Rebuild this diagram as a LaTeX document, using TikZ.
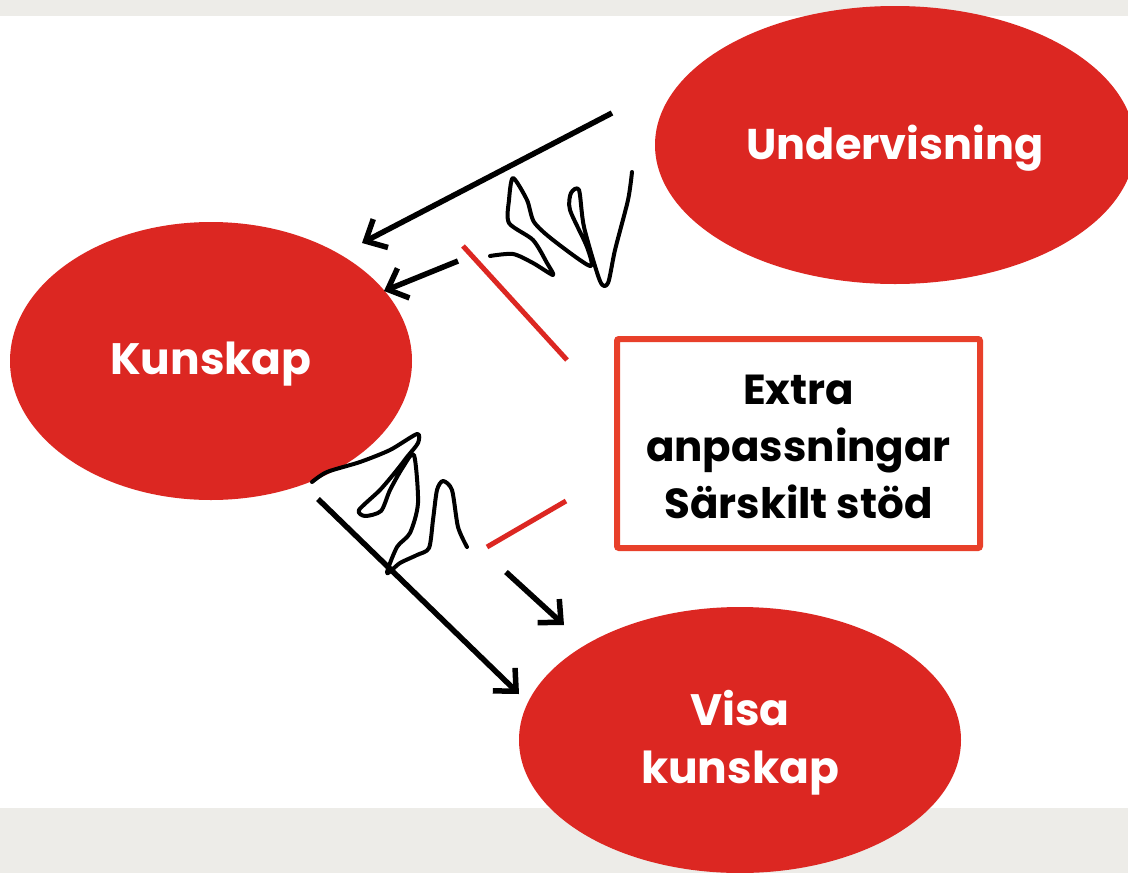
\documentclass[tikz,border=0pt]{standalone}
\usepackage{fontspec}
\newfontfamily\popfont{Poppins}
\usetikzlibrary{arrows.meta,shapes.geometric}
\definecolor{bandgrey}{HTML}{EDECE8}
\definecolor{ellred}{HTML}{DC2722}
\definecolor{boxred}{HTML}{E8402A}
\tikzset{
  bubble/.style={ellipse, fill=ellred, inner sep=0pt, text=white, align=center,
    font=\popfont\bfseries\fontsize{44}{56}\selectfont},
  arrowline/.style={line width=5.5pt, black, -{Straight Barb[length=17pt,width=32pt,line width=5.5pt]}},
  redline/.style={line width=5pt, ellred},
  scribble/.style={line width=4pt, black, line cap=round, line join=round},
}
\begin{document}
\begin{tikzpicture}[x=1pt,y=-1pt]
\path[use as bounding box] (0,0) rectangle (1128,873);
\fill[white] (0,0) rectangle (1128,873);
\fill[bandgrey] (0,0) rectangle (1128,16);
\fill[bandgrey] (0,808) rectangle (1128,873);

\node[bubble, minimum width=480pt, minimum height=278pt] (und) at (895,145) {};
\node[bubble, minimum width=402pt, minimum height=278pt] (kun) at (211,361) {};
\node[bubble, minimum width=442pt, minimum height=266pt] (visa) at (740,740) {};

\node[font=\popfont\bfseries\fontsize{43}{56}\selectfont, text=white] (undt) at (895,148) {Undervisning};
\node[font=\popfont\bfseries\fontsize{44}{56}\selectfont, text=white] (kunt) at (211,364) {Kunskap};
\node[font=\popfont\bfseries\fontsize{44}{58}\selectfont, text=white, align=center] (visat) at (740,743) {Visa\\kunskap};

\node[draw=boxred, line width=6pt, rounded corners=2pt, fill=white, minimum width=363pt, minimum height=209pt] (box) at (798.5,443.5) {};
\node[font=\popfont\bfseries\fontsize{42}{57}\selectfont, align=center] (boxt) at (798.5,447) {Extra\\anpassningar\\Särskilt stöd};

% connector end points
\coordinate (a1s) at (612,113);
\coordinate (a1e) at (362,243);
\coordinate (a2s) at (458,261);
\coordinate (a2e) at (384,291);
\coordinate (a3s) at (318,499);
\coordinate (a3e) at (519,694);
\coordinate (a4s) at (506,572);
\coordinate (a4e) at (564,625);
\coordinate (r1s) at (463,246);
\coordinate (r1e) at (567,360);
\coordinate (r2s) at (487,547);
\coordinate (r2e) at (566,501);

\draw[arrowline] (a1s) -- (a1e);
\draw[arrowline] (a2s) -- (a2e);
\draw[arrowline] (a3s) -- (a3e);
\draw[arrowline] (a4s) -- (a4e);
\draw[redline] (r1s) -- (r1e);
\draw[redline] (r2s) -- (r2e);

% scribbles
\draw[scribble] plot[smooth, tension=0.45] coordinates {
 (490,256) (513,254) (533,263) (553,275) (547,263) (533,240) (509,223)
 (509,200) (513,178) (527,200) (534,222) (553,240) (590,266) (587,247)
 (570,210) (571,193) (579,190) (584,227) (600,281) (608,283) (615,250)
 (628,200) (632,172)};
\draw[scribble] plot[smooth, tension=0.45] coordinates {
 (312,482) (327,472) (360,462) (390,450) (417,434) (418,443) (407,457)
 (397,470) (380,490) (359,510) (365,516) (381,511) (390,490) (403,467)
 (414,455) (418,503) (410,533) (397,547) (387,573) (400,563) (417,555)
 (429,548) (433,520) (437,490) (443,481) (452,490) (458,527) (467,547)};
\end{tikzpicture}
\end{document}
